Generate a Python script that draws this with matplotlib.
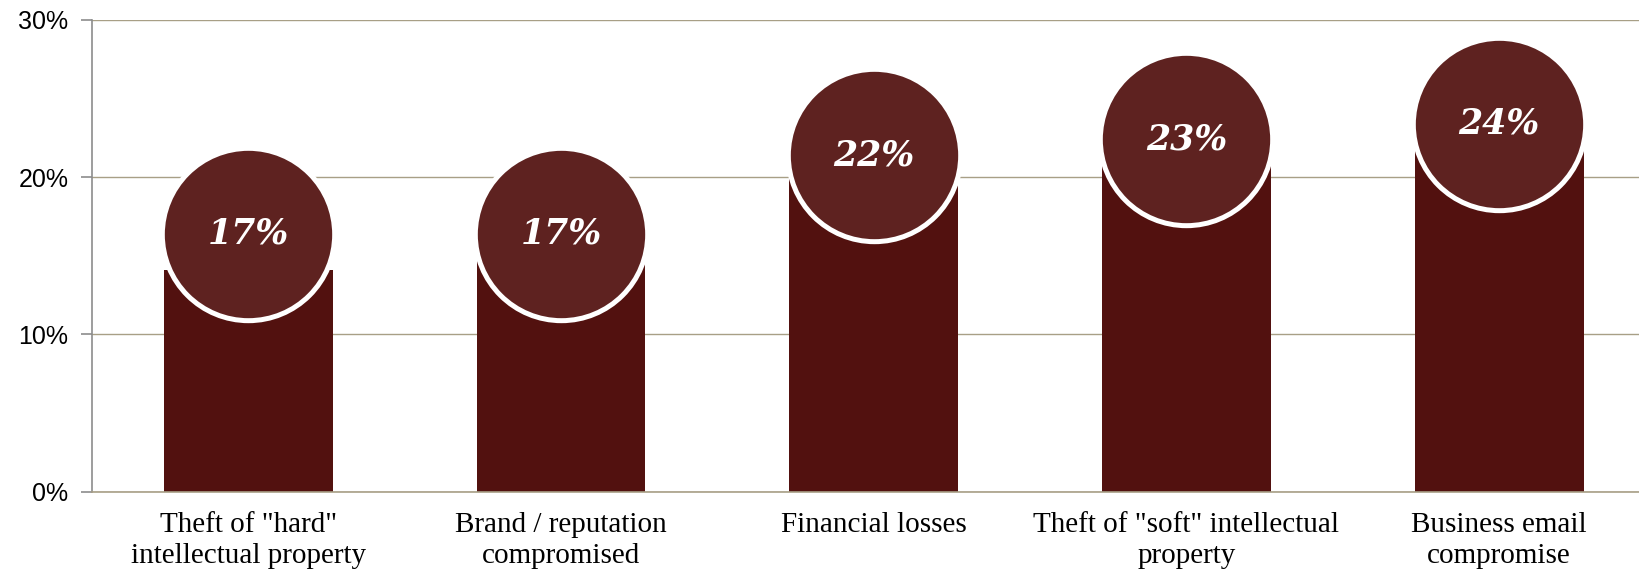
import numpy as np
import matplotlib
matplotlib.use('Agg')
import matplotlib.pyplot as plt
from matplotlib.ticker import FuncFormatter

# categories and values
categories = ['Theft of "hard"\nintellectual property',
              'Brand / reputation\ncompromised',
              'Financial losses',
              'Theft of "soft" intellectual\nproperty',
              'Business email\ncompromise']
label_pct = [17, 17, 22, 23, 24]
bar_pct = [14.1, 14.7, 20.0, 21.8, 22.6]
y_ticks = [0, 10, 20, 30]

BAR_COLOR = '#52110f'
DOT_COLOR = '#5e2220'
GRID_COLOR = '#a89f86'
AXIS_COLOR = '#8c8c8c'


def main():
    fig = plt.figure(figsize=(16.4, 5.69), dpi=100)
    # axes runs a little past the right edge of the figure
    ax = fig.add_axes([92/1640, 77.4/569, 1563.5/1640, 471.7/569])

    x = np.arange(len(categories))
    ax.bar(x, bar_pct, width=0.54, color=BAR_COLOR, zorder=2)

    # round badges sitting on the bar tops, carrying the value
    dot_y = np.array(label_pct) - 0.6
    ax.scatter(x, dot_y, s=15400, color=DOT_COLOR, edgecolor='white',
               linewidth=3.6, zorder=3, clip_on=False)
    for xi, yi, v in zip(x, dot_y, label_pct):
        ax.text(xi, yi, '%d%%' % v, ha='center', va='center', color='white',
                fontsize=25, fontweight='bold', fontstyle='italic',
                family='DejaVu Serif', zorder=4)

    ax.set_xlim(-0.5, len(categories) - 0.5)
    ax.set_ylim(0, 30)
    ax.set_yticks(y_ticks)
    ax.yaxis.set_major_formatter(FuncFormatter(lambda v, p: '%d%%' % v))
    ax.set_xticks(x)
    ax.set_xticklabels(categories, family='Liberation Serif', fontsize=21,
                       linespacing=1.25)
    ax.tick_params(axis='x', length=0, pad=15)
    ax.tick_params(axis='y', length=8, width=1.2, color=AXIS_COLOR, pad=9,
                   labelsize=18)
    for lab in ax.get_yticklabels():
        lab.set_family('Liberation Sans')

    ax.grid(axis='y', color=GRID_COLOR, linewidth=1.0, zorder=0)
    ax.set_axisbelow(True)
    for s in ['top', 'right']:
        ax.spines[s].set_visible(False)
    ax.spines['left'].set_color(AXIS_COLOR)
    ax.spines['left'].set_linewidth(1.2)
    ax.spines['bottom'].set_color(GRID_COLOR)
    ax.spines['bottom'].set_linewidth(1.2)

    fig.savefig('out.png', dpi=100)


if __name__ == "__main__":
    main()
